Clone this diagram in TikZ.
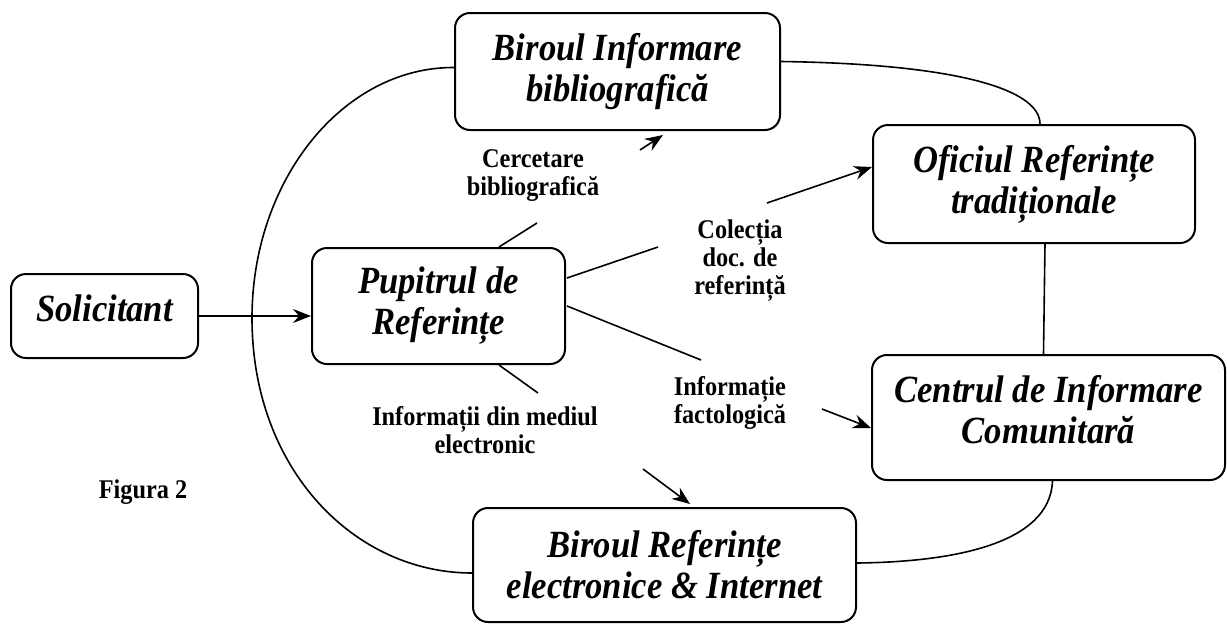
\documentclass[tikz,border=0pt]{standalone}
\usepackage{fontspec}
\setmainfont{Liberation Serif}
\newfontfamily\narrowserif[FakeStretch=0.9]{Liberation Serif}
\usetikzlibrary{arrows.meta,calc}
\begin{document}
\begin{tikzpicture}[x=1pt,y=-1pt,
  box/.style={draw,line width=2pt,rounded corners=15pt,inner sep=0pt,align=center,
    font=\narrowserif\bfseries\itshape\fontsize{38.5}{41}\selectfont},
  lab/.style={inner sep=0pt,align=center,font=\narrowserif\bfseries\fontsize{27}{28}\selectfont},
  ln/.style={line width=1.6pt},
  arr/.style={ln,-{Stealth[length=18pt,width=14pt,inset=6pt]}}]
\useasboundingbox (0,0) rectangle (1227,625);

% boxes
\node[box,minimum width=187pt,minimum height=84pt,text depth=15.5pt] (sol) at (104.5,316) {Solicitant};
\node[box,minimum width=253pt,minimum height=116pt] (pup) at (438.5,306) {Pupitrul de\\Referințe};
\node[box,minimum width=325pt,minimum height=117pt] (bib) at (617.5,71.5) {Biroul Informare\\bibliografică};
\node[box,minimum width=322pt,minimum height=118pt] (ofi) at (1034,184) {Oficiul Referințe\\tradiționale};
\node[box,minimum width=353pt,minimum height=125pt,text depth=16.5pt] (cen) at (1048.5,417.5) {Centrul de Informare\\Comunitară};
\node[box,minimum width=383pt,minimum height=114pt] (bre) at (664.5,565) {Biroul Referințe\\electronice \& Internet};

% labels
\node[lab] (lcer) at (533,176) {Cercetare\\bibliografică};
\node[lab,text depth=5pt] (lcol) at (740,260) {Colecția\\doc. de\\referință};
\node[lab] (lfac) at (730,403) {Informație\\factologică};
\node[lab] (lele) at (485,430) {Informații din mediul\\electronic};
\node[lab] (fig) at (143,492) {Figura 2};

% free ends of broken connectors
\coordinate (c1) at (537,223);
\coordinate (c2) at (640,150);
\coordinate (c3) at (658,247);
\coordinate (c4) at (767,203);
\coordinate (c5) at (701,360);
\coordinate (c6) at (822,409);
\coordinate (c7) at (538,393);
\coordinate (c8) at (643,469);

% connectors
\draw[arr] (sol.east) -- (sol.east -| pup.west);
\draw[ln] ($(pup.north west)+(188,0)$) -- (c1);
\draw[arr] (c2) -- ($(bib.south west)+(209,4)$);
\draw[ln] ($(pup.north east)+(1,31)$) -- (c3);
\draw[arr] (c4) -- ($(ofi.north west)+(0,43)$);
\draw[ln] ($(pup.north east)+(1,59)$) -- (c5);
\draw[arr] (c6) -- ($(cen.north west)+(0,74)$);
\draw[ln] ($(pup.south west)+(188,0)$) -- (c7);
\draw[arr] (c8) -- ($(bre.north west)+(218,-3)$);

% outer ring
\draw[ln] ($(bib.west)+(0,-4)$) .. controls (343,67) and (252,180) .. (252,318)
  .. controls (252,470) and (355,573) .. ($(bre.west)+(0,8)$);
\draw[ln] ($(bib.east)+(0,-10)$) .. controls (960,64) and (1040,90) .. ($(ofi.north)+(6,0)$);
\draw[ln] ($(ofi.south)+(11,0)$) -- ($(cen.north)+(-5,0)$);
\draw[ln] ($(cen.south)+(4,0)$) .. controls (1050,545) and (950,562) .. ($(bre.east)+(0,-2)$);
\end{tikzpicture}
\end{document}
